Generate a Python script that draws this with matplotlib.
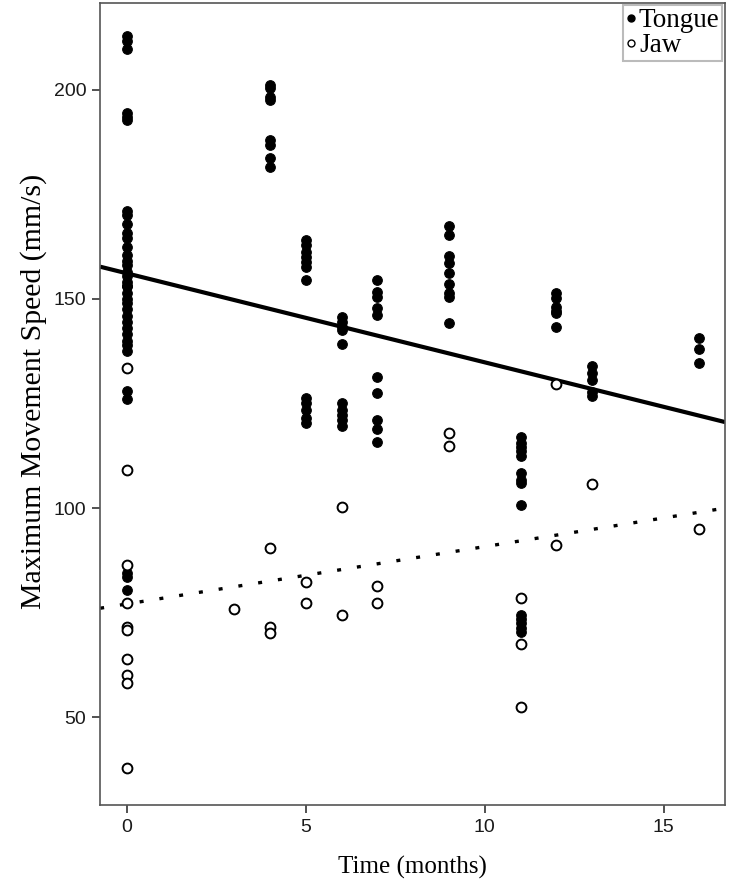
import numpy as np
import matplotlib
matplotlib.use('Agg')
import matplotlib.pyplot as plt
from matplotlib.lines import Line2D

# tongue (filled) and jaw (open) maximum movement speeds, mm/s
tongue_month = [0] * 36 + [4] * 8 + [5] * 12 + [6] * 10 + [7] * 10 + [9] * 9 + \
    [11] * 14 + [12] * 6 + [13] * 5 + [16] * 3
tongue_speed = [
    212.9, 211.7, 209.8, 194.5, 193.5, 192.8, 171.0, 170.0, 168.0, 165.8, 164.5,
    162.5, 160.5, 159.0, 158.0, 156.5, 155.5, 154.0, 153.0, 151.5, 150.0, 149.0,
    147.5, 146.0, 144.5, 143.0, 141.5, 140.0, 139.0, 137.5, 128.0, 126.0,
    84.4, 83.5, 80.4, 153.0,
    201.2, 200.5, 198.3, 197.6, 188.0, 186.8, 183.7, 181.6,
    164.1, 162.9, 161.2, 160.0, 158.9, 157.7, 154.5, 126.3, 125.1, 123.4, 121.5, 120.3,
    145.7, 144.5, 143.3, 142.6, 139.2, 125.1, 123.4, 122.2, 121.1, 119.6,
    154.5, 151.7, 150.5, 147.8, 146.2, 131.3, 127.5, 121.1, 118.9, 115.8,
    167.5, 165.3, 160.3, 158.6, 156.2, 153.6, 151.4, 150.5, 144.3,
    117.0, 115.6, 114.6, 113.6, 112.4, 108.4, 106.7, 106.0, 100.7,
    74.4, 73.4, 72.5, 71.3, 70.3,
    151.4, 150.2, 148.1, 147.1, 146.7, 143.3,
    134.0, 132.3, 130.6, 127.8, 126.8,
    140.7, 138.0, 134.7,
]
jaw_month = [0] * 10 + [3] + [4] * 3 + [5] * 2 + [6] * 2 + [7] * 2 + [9] * 2 + \
    [11] * 3 + [12] * 2 + [13] + [16]
jaw_speed = [
    133.5, 109.1, 86.4, 77.3, 71.5, 70.8, 63.9, 60.0, 58.1, 37.8,
    75.8,
    90.4, 71.5, 70.1,
    82.3, 77.3,
    100.2, 74.4,
    81.3, 77.3,
    117.9, 114.8,
    78.5, 67.5, 52.4,
    129.7, 91.1,
    105.7,
    95.0,
]

# fitted lines: intercept, slope (per month)
tongue_fit = (156.1, -2.126)
jaw_fit = (77.1, 1.37)

xlim = (-0.75, 16.72)
ylim = (29, 220.8)

plt.rcParams['font.family'] = 'Liberation Serif'

fig = plt.figure(figsize=(7.31, 8.8), dpi=100)
ax = fig.add_axes([0.137, 0.085, 0.855, 0.912])

ax.scatter(tongue_month, tongue_speed, s=48, c='black', edgecolors='black',
           linewidths=0.8, zorder=3)
ax.scatter(jaw_month, jaw_speed, s=50, facecolors='white', edgecolors='black',
           linewidths=1.4, zorder=3)

xs = np.array(xlim)
ax.plot(xs, tongue_fit[0] + tongue_fit[1] * xs, color='black', lw=3.0,
        solid_capstyle='butt', zorder=2)
ax.plot(xs, jaw_fit[0] + jaw_fit[1] * xs, color='black', lw=2.4,
        linestyle=(0, (1.2, 4.8)), dash_capstyle='butt', zorder=2)

ax.set_xlim(*xlim)
ax.set_ylim(*ylim)
ax.set_xticks([0, 5, 10, 15])
ax.set_yticks([50, 100, 150, 200])
for lab in ax.get_xticklabels() + ax.get_yticklabels():
    lab.set_family('Liberation Sans')
    lab.set_fontsize(14)
    lab.set_color('#1a1a1a')
ax.tick_params(direction='out', length=6, width=1.2, color='#333333', pad=4)

for sp in ax.spines.values():
    sp.set_color('#555555')
    sp.set_linewidth(1.2)

ax.set_xlabel('Time (months)', fontsize=18, labelpad=14)
ax.set_ylabel('Maximum Movement Speed (mm/s)', fontsize=21.5, labelpad=10)
ax.yaxis.set_label_coords(-0.085, 0.516)

handles = [
    Line2D([], [], marker='o', ls='none', color='black', markersize=5),
    Line2D([], [], marker='o', ls='none', markerfacecolor='white',
           markeredgecolor='black', markersize=5, markeredgewidth=1),
]
leg = ax.legend(handles, ['Tongue', 'Jaw'], loc='upper right', fontsize=19.5,
                frameon=True, fancybox=False, handlelength=0.4,
                handletextpad=0.1, borderpad=0.1, labelspacing=0.0,
                borderaxespad=0.1)
leg.get_frame().set_edgecolor('#aaaaaa')
leg.get_frame().set_linewidth(1.5)

fig.savefig('out.png', dpi=100)
